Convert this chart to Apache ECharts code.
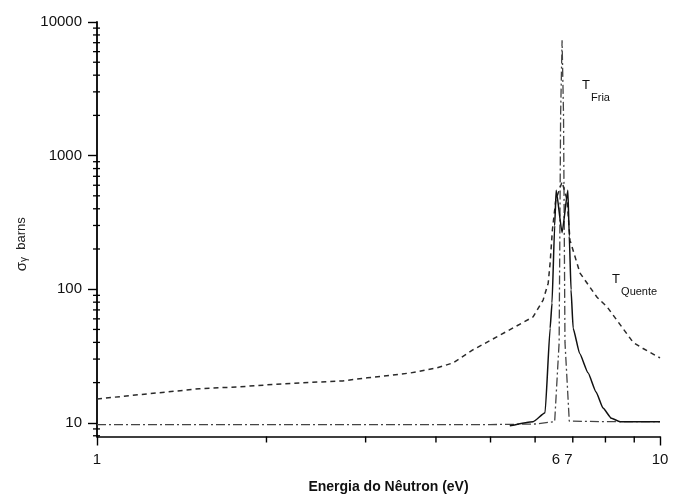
<!DOCTYPE html>
<html><head><meta charset="utf-8">
<script src="https://cdn.jsdelivr.net/npm/echarts@6/dist/echarts.min.js"></script>
<style>html,body{margin:0;padding:0;background:#fff}#c{width:676px;height:495px}</style>
</head><body><div id="c"></div>
<script>
// Hot (T_Quente) curve, dashed/dotted
const hotEnergy = [1, 1.52, 1.79, 2.14, 2.73, 3.02, 3.6, 4.02, 4.29, 4.65, 5.13, 5.95, 6.2, 6.33, 6.38, 6.44, 6.53, 6.7, 6.84, 6.92, 7.21, 7.73, 8.05, 8.96, 9.33, 10];
const hotSigma  = [15.1, 18.0, 18.6, 19.6, 20.6, 21.7, 23.6, 25.8, 28.1, 35.1, 44, 62, 83, 111, 157, 278, 465, 636, 465, 233, 132, 87, 74, 40, 36, 30.6];
// Solid curve
const solidEnergy = [5.41, 5.95, 6.25, 6.38, 6.43, 6.5, 6.54, 6.7, 6.86, 6.9, 6.95, 7.01, 7.2, 7.45, 7.7, 7.92, 8.2, 8.49, 8.95, 10];
const solidSigma  = [9.5, 10.2, 11.9, 51, 79, 300, 550, 265, 550, 250, 99, 51, 33, 23.7, 17, 12.9, 10.8, 10.2, 10.2, 10.2];
// Cold (T_Fria) curve, dash-dot
const coldEnergy = [1, 2, 3, 4, 5, 6, 6.5, 6.62, 6.66, 6.7, 6.74, 6.78, 6.9, 8, 10];
const coldSigma  = [9.7, 9.7, 9.7, 9.7, 9.7, 9.8, 10.2, 40, 2000, 7300, 2000, 40, 10.3, 10.2, 10.2];

// Axis ticks / labels
const xMin = 1, xMax = 10, yMin = 7.9, yMax = 10000;
const xMinorTicks = [2, 3, 4, 5, 6, 7, 8, 9];
const xExtraLabelValues = [6.7];
const xExtraLabels = ['6 7'];
const yMinorTicks = [8, 9, 20, 30, 40, 50, 60, 70, 80, 90, 200, 300, 400, 500, 600, 700, 800, 900, 2000, 3000, 4000, 5000, 6000, 7000, 8000, 9000];

// Annotations
const annoEnergy = [7.27, 8.22];
const annoSigma = [3740, 132];
const annoMain = ['T', 'T'];
const annoSub = ['Fria', 'Quente'];

const FONT = 'Liberation Sans, Arial, Helvetica, sans-serif';
const pairs = (xs, ys) => xs.map((x, i) => [x, ys[i]]);

const chart = echarts.init(document.getElementById('c'), null, {renderer: 'canvas'});
chart.setOption({
  backgroundColor: '#fff',
  animation: false,
  grid: {left: 97, right: 16, top: 22, bottom: 58.5, containLabel: false, outerBoundsMode: 'none'},
  xAxis: {
    type: 'log', logBase: 10, min: xMin, max: xMax,
    name: 'Energia do Nêutron (eV)', nameLocation: 'middle', nameGap: 44,
    nameTextStyle: {fontFamily: FONT, fontSize: 14, fontWeight: 'bold', color: '#111', padding: [0, 0, 0, 20]},
    axisLine: {lineStyle: {color: '#000', width: 1.6}},
    axisTick: {show: true, length: 9, lineStyle: {color: '#000', width: 1.4}},
    axisLabel: {fontFamily: FONT, fontSize: 15, color: '#111', margin: 16, formatter: v => String(v)},
    splitLine: {show: false}, minorTick: {show: false}
  },
  yAxis: {
    type: 'log', logBase: 10, min: yMin, max: yMax,
    name: '{s|σ}{g|γ}  barns', nameLocation: 'middle', nameGap: 66, nameRotate: 90,
    nameTextStyle: {fontFamily: FONT, fontSize: 13, color: '#222', padding: [0, 30, 0, 0],
      rich: {s: {fontFamily: FONT, fontSize: 15, color: '#222'}, g: {fontFamily: FONT, fontSize: 10, color: '#222', verticalAlign: 'bottom', padding: [6, 0, 0, 0]}}},
    axisLine: {lineStyle: {color: '#000', width: 1.8}},
    axisTick: {show: true, length: 9, lineStyle: {color: '#000', width: 1.4}},
    axisLabel: {fontFamily: FONT, fontSize: 15, color: '#111', margin: 15, showMinLabel: false, formatter: v => String(Math.round(v))},
    splitLine: {show: false}
  },
  series: [
    {
      name: 'T Quente', type: 'line', data: pairs(hotEnergy, hotSigma),
      showSymbol: false,
      lineStyle: {color: '#2a2a2a', width: 1.5, type: [5, 4]}, z: 3
    },
    {
      name: 'Solid', type: 'line', data: pairs(solidEnergy, solidSigma),
      showSymbol: false, smooth: 0.15, smoothMonotone: 'x',
      lineStyle: {color: '#111', width: 1.5}, z: 4
    },
    {
      name: 'T Fria', type: 'line', data: pairs(coldEnergy, coldSigma),
      showSymbol: false,
      lineStyle: {color: '#444', width: 1.3, type: [9, 3, 2, 3]}, z: 2
    },
    {
      type: 'custom', silent: true, clip: false, z: 6,
      data: yMinorTicks.map(v => [xMin, v]),
      renderItem: (params, api) => {
        const p = api.coord([api.value(0), api.value(1)]);
        return {type: 'line', shape: {x1: p[0] - 4, y1: p[1], x2: p[0] + 3, y2: p[1]}, style: {stroke: '#000', lineWidth: 1.3}};
      }
    },
    {
      type: 'custom', silent: true, clip: false, z: 6,
      data: xMinorTicks.map(v => [v, yMin]),
      renderItem: (params, api) => {
        const p = api.coord([api.value(0), api.value(1)]);
        return {type: 'line', shape: {x1: p[0], y1: p[1], x2: p[0], y2: p[1] + 6}, style: {stroke: '#000', lineWidth: 1.4}};
      }
    },
    {
      type: 'custom', silent: true, clip: false, z: 6,
      data: xExtraLabelValues.map(v => [v, yMin]),
      renderItem: (params, api) => {
        const p = api.coord([api.value(0), api.value(1)]);
        return {type: 'text', x: p[0], y: p[1] + 16,
          style: {text: xExtraLabels[params.dataIndex], font: '15px ' + FONT, fill: '#111', align: 'center', verticalAlign: 'top'}};
      }
    },
    {
      type: 'custom', silent: true, clip: false, z: 6,
      data: pairs(annoEnergy, annoSigma),
      renderItem: (params, api) => {
        const p = api.coord([api.value(0), api.value(1)]);
        const i = params.dataIndex;
        return {type: 'group', children: [
          {type: 'text', x: p[0], y: p[1], style: {text: annoMain[i], font: '13px ' + FONT, fill: '#111', align: 'left', verticalAlign: 'top'}},
          {type: 'text', x: p[0] + 9, y: p[1] + 13, style: {text: annoSub[i], font: '11px ' + FONT, fill: '#111', align: 'left', verticalAlign: 'top'}}
        ]};
      }
    }
  ]
});
</script>
</body></html>
